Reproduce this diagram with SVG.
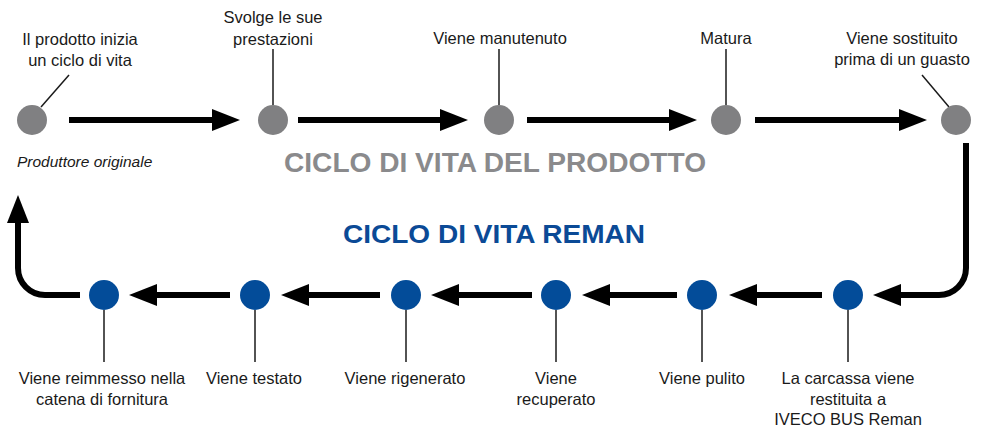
<svg xmlns="http://www.w3.org/2000/svg" width="983" height="428" viewBox="0 0 983 428">
<style>
.lbl{font-family:"Liberation Sans",Arial,sans-serif;font-size:16.5px;fill:#1a1a1a;text-anchor:middle}
.it{font-family:"Liberation Sans",Arial,sans-serif;font-size:15.5px;font-style:italic;fill:#1a1a1a}
.t1{font-family:"Liberation Sans",Arial,sans-serif;font-size:27px;font-weight:bold;fill:#8a8a8c}
.t2{font-family:"Liberation Sans",Arial,sans-serif;font-size:25px;font-weight:bold;fill:#0b4a96}
.g{fill:#808082}
.b{fill:#034c99}
.lead{stroke:#1a1a1a;stroke-width:1.5;fill:none}
.arr{stroke:#000;stroke-width:6;fill:none;marker-end:url(#ah)}
</style>
<defs>
<marker id="ah" viewBox="0 0 28 22" refX="0" refY="11" markerWidth="28" markerHeight="22" markerUnits="userSpaceOnUse" orient="auto">
<path d="M0,0 L28,11 L0,22 z" fill="#000"/>
</marker>
</defs>
<rect width="983" height="428" fill="#fff"/>
<g id="connectors">
<path class="arr" d="M69,120 H212"/>
<path class="arr" d="M298,120 H440"/>
<path class="arr" d="M527,120 H669"/>
<path class="arr" d="M755,120 H899"/>
<path class="arr" d="M966,143 V268 A27,27 0 0 1 939,295 H901"/>
<path class="arr" d="M822,295 H757"/>
<path class="arr" d="M677,295 H610"/>
<path class="arr" d="M532,295 H459"/>
<path class="arr" d="M380,295 H309"/>
<path class="arr" d="M230,295 H157"/>
<path class="arr" d="M80,295 H45 A27,27 0 0 1 18,268 V223"/>
</g>
<g id="n1">
<line class="lead" x1="69" y1="75" x2="41" y2="107"/>
<circle class="g" cx="32" cy="120" r="15"/>
<text class="lbl" x="80" y="45">Il prodotto inizia</text>
<text class="lbl" x="80" y="66">un ciclo di vita</text>
<text class="it" x="17" y="167">Produttore originale</text>
</g>
<g id="n2">
<line class="lead" x1="273" y1="49" x2="273" y2="105"/>
<circle class="g" cx="273" cy="120" r="15"/>
<text class="lbl" x="273" y="23">Svolge le sue</text>
<text class="lbl" x="273" y="45">prestazioni</text>
</g>
<g id="n3">
<line class="lead" x1="499" y1="49" x2="499" y2="105"/>
<circle class="g" cx="499" cy="120" r="15"/>
<text class="lbl" x="500" y="44">Viene manutenuto</text>
</g>
<g id="n4">
<line class="lead" x1="726" y1="49" x2="726" y2="105"/>
<circle class="g" cx="726" cy="120" r="15"/>
<text class="lbl" x="726" y="44">Matura</text>
</g>
<g id="n5">
<line class="lead" x1="922" y1="75" x2="949" y2="107"/>
<circle class="g" cx="956" cy="120" r="15"/>
<text class="lbl" x="902" y="44">Viene sostituito</text>
<text class="lbl" x="902" y="65">prima di un guasto</text>
</g>
<g id="titles">
<text class="t1" x="284" y="172" textLength="422" lengthAdjust="spacingAndGlyphs">CICLO DI VITA DEL PRODOTTO</text>
<text class="t2" x="343" y="243" textLength="302" lengthAdjust="spacingAndGlyphs">CICLO DI VITA REMAN</text>
</g>
<g id="r1">
<circle class="b" cx="848" cy="295" r="15"/>
<line class="lead" x1="848" y1="310" x2="848" y2="362"/>
<text class="lbl" x="848" y="384">La carcassa viene</text>
<text class="lbl" x="848" y="405">restituita a</text>
<text class="lbl" x="848" y="425">IVECO BUS Reman</text>
</g>
<g id="r2">
<circle class="b" cx="702" cy="295" r="15"/>
<line class="lead" x1="702" y1="310" x2="702" y2="362"/>
<text class="lbl" x="702" y="384">Viene pulito</text>
</g>
<g id="r3">
<circle class="b" cx="556" cy="295" r="15"/>
<line class="lead" x1="556" y1="310" x2="556" y2="362"/>
<text class="lbl" x="556" y="384">Viene</text>
<text class="lbl" x="556" y="405">recuperato</text>
</g>
<g id="r4">
<circle class="b" cx="406" cy="295" r="15"/>
<line class="lead" x1="406" y1="310" x2="406" y2="362"/>
<text class="lbl" x="405" y="384">Viene rigenerato</text>
</g>
<g id="r5">
<circle class="b" cx="255" cy="295" r="15"/>
<line class="lead" x1="255" y1="310" x2="255" y2="362"/>
<text class="lbl" x="254" y="384">Viene testato</text>
</g>
<g id="r6">
<circle class="b" cx="104" cy="295" r="15"/>
<line class="lead" x1="104" y1="310" x2="104" y2="362"/>
<text class="lbl" x="102" y="384">Viene reimmesso nella</text>
<text class="lbl" x="102" y="405">catena di fornitura</text>
</g>
</svg>
